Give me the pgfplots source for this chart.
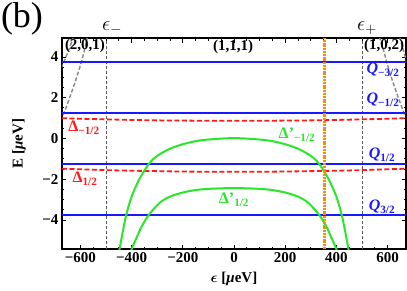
\documentclass[border=0pt]{standalone}
\usepackage{fontspec}
\setmainfont{Liberation Serif}
\usepackage{bm}
\usepackage{pgfplots}
\pgfplotsset{compat=1.18}
\definecolor{qblue}{RGB}{25,25,255}
\definecolor{dred}{RGB}{255,25,25}
\definecolor{dgreen}{RGB}{40,230,40}
\definecolor{dorange}{RGB}{255,140,0}
\definecolor{cgray}{RGB}{135,135,135}
\begin{document}
\begin{tikzpicture}
\useasboundingbox (-62pt,-41pt) rectangle (345pt,249pt);
\begin{axis}[at={(0,0)}, anchor=south west, scale only axis,
  width=344pt, height=211pt,
  xmin=-672, xmax=672, ymin=-5.42, ymax=4.93,
  xtick={-600,-400,-200,0,200,400,600},
  xticklabels={−600,−400,−200,0,200,400,600},
  ytick={-4,-2,0,2,4}, yticklabels={−4,−2,0,2,4},
  minor x tick num=3, minor y tick num=3,
  tick align=inside, major tick length=4.5pt, minor tick length=2.5pt,
  ticklabel style={font=\bfseries\fontsize{15}{15}\selectfont},
  axis line style={line width=1.4pt}, tick style={black, line width=0.9pt},
  xlabel={\bfseries$\bm{\epsilon}$ [\textit{μ}eV]},
  ylabel={\bfseries E [\textit{μ}eV]},
  label style={font=\bfseries\fontsize{15}{15}\selectfont},
  xlabel style={at={(axis description cs:0.5,-0.142)}, anchor=center},
  ylabel style={at={(axis description cs:-0.125,0.5)}, anchor=center, rotate=0},
]
% epsilon +- vertical dashed
\addplot[black!65, line width=0.6pt, dash pattern=on 3pt off 2pt] coordinates {(-500,-5.42) (-500,4.93)};
\addplot[black!65, line width=0.6pt, dash pattern=on 3pt off 2pt] coordinates {(500,-5.42) (500,4.93)};
% gray dashed curves
\addplot[cgray, line width=1.4pt, dash pattern=on 4pt off 2pt, smooth] coordinates {(-667,1.15) (-645,1.9) (-620,2.8) (-600,3.6) (-585,4.3) (-572,5.0)};
\addplot[cgray, line width=1.4pt, dash pattern=on 4pt off 2pt, smooth] coordinates {(-675,3.45) (-650,4.2) (-627,5.0)};
\addplot[cgray, line width=1.4pt, dash pattern=on 4pt off 2pt, smooth] coordinates {(567,5.0) (585,4.3) (600,3.6) (620,2.8) (645,1.9) (667,1.15)};
\addplot[cgray, line width=1.4pt, dash pattern=on 4pt off 2pt, smooth] coordinates {(647,5.0) (660,4.4) (675,3.75)};
% blue Q lines
\addplot[qblue, line width=2pt] coordinates {(-672,3.75) (672,3.75)};
\addplot[qblue, line width=2pt] coordinates {(-672,1.25) (672,1.25)};
\addplot[qblue, line width=2pt] coordinates {(-672,-1.25) (672,-1.25)};
\addplot[qblue, line width=2pt] coordinates {(-672,-3.75) (672,-3.75)};
% red dashed Delta
\addplot[dred, line width=1.8pt, dash pattern=on 5pt off 2.5pt, smooth] coordinates {(-672,1.0) (-600,0.97) (-500,0.94) (-400,0.91) (-300,0.89) (-200,0.88) (-100,0.87) (0,0.87) (100,0.87) (200,0.88) (300,0.89) (400,0.91) (500,0.94) (600,0.97) (672,1.0)};
\addplot[dred, line width=1.8pt, dash pattern=on 5pt off 2.5pt, smooth] coordinates {(-672,-1.48) (-600,-1.51) (-500,-1.55) (-400,-1.58) (-300,-1.6) (-200,-1.62) (-100,-1.63) (0,-1.63) (100,-1.63) (200,-1.62) (300,-1.6) (400,-1.58) (500,-1.55) (600,-1.51) (672,-1.48)};
% green Delta'
\addplot[dgreen, line width=2pt, smooth] coordinates {(-452,-5.8) (-447,-5.42) (-435,-4.6) (-421,-3.75) (-400,-2.85) (-370,-2.0) (-333,-1.25) (-300,-0.85) (-250,-0.5) (-200,-0.28) (-150,-0.13) (-100,-0.05) (0,0.02) (100,-0.05) (150,-0.13) (200,-0.28) (250,-0.5) (300,-0.85) (333,-1.25) (370,-2.0) (400,-2.85) (421,-3.75) (435,-4.6) (447,-5.42) (452,-5.8)};
\addplot[dgreen, line width=2pt, smooth] coordinates {(-405,-5.7) (-400,-5.42) (-380,-4.85) (-360,-4.3) (-333,-3.75) (-290,-3.15) (-250,-2.85) (-200,-2.65) (-150,-2.53) (-100,-2.47) (0,-2.43) (100,-2.47) (150,-2.53) (200,-2.65) (250,-2.85) (290,-3.15) (333,-3.75) (360,-4.3) (380,-4.85) (400,-5.42) (405,-5.7)};
% orange line
\addplot[dorange, line width=3pt, dash pattern=on 2pt off 0.8pt] coordinates {(352,-5.42) (352,4.93)};
\end{axis}
% labels
\node[font=\fontsize{36}{36}\selectfont] at (-40pt,230pt) {(b)};
\node[font=\fontsize{21}{21}\selectfont] at (50pt,221pt) {$\epsilon_-$};
\node[font=\fontsize{21}{21}\selectfont] at (305pt,221pt) {$\epsilon_+$};
\node[font=\bfseries\fontsize{15}{15}\selectfont] at (23pt,203.5pt) {(2,0,1)};
\node[font=\bfseries\fontsize{15}{15}\selectfont] at (171pt,202pt) {(1,1,1)};
\node[font=\bfseries\fontsize{15}{15}\selectfont] at (322pt,203.5pt) {(1,0,2)};
\node[qblue, font=\bfseries\fontsize{16}{16}\selectfont] at (321pt,179pt) {\textit{Q}\textsubscript{−3/2}};
\node[qblue, font=\bfseries\fontsize{16}{16}\selectfont] at (321pt,149pt) {\textit{Q}\textsubscript{−1/2}};
\node[qblue, font=\bfseries\fontsize{16}{16}\selectfont] at (320pt,94pt) {\textit{Q}\textsubscript{1/2}};
\node[qblue, font=\bfseries\fontsize{16}{16}\selectfont] at (320pt,42pt) {\textit{Q}\textsubscript{3/2}};
\node[dred, font=\bfseries\fontsize{16}{16}\selectfont] at (22pt,121pt) {Δ\textsubscript{−1/2}};
\node[dred, font=\bfseries\fontsize{16}{16}\selectfont] at (23pt,70pt) {Δ\textsubscript{1/2}};
\node[dgreen, font=\bfseries\fontsize{16}{16}\selectfont] at (235pt,114pt) {Δ'\textsubscript{−1/2}};
\node[dgreen, font=\bfseries\fontsize{16}{16}\selectfont] at (172pt,49pt) {Δ'\textsubscript{1/2}};
\end{tikzpicture}
\end{document}
